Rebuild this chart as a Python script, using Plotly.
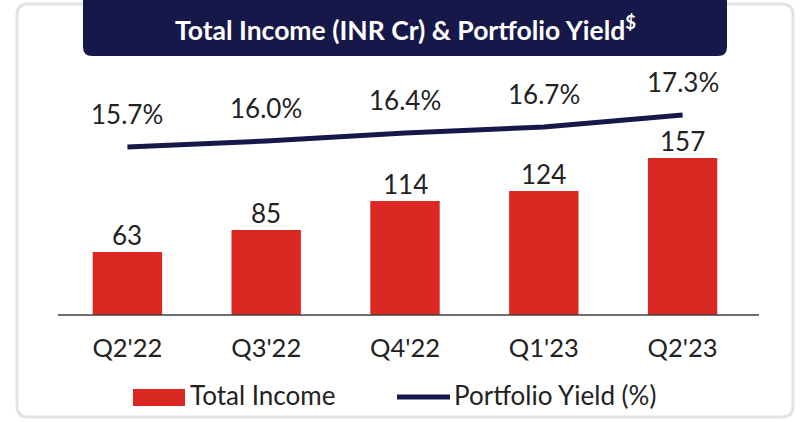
import plotly.graph_objects as go

categories = ["Q2'22", "Q3'22", "Q4'22", "Q1'23", "Q2'23"]
total_income = [63, 85, 114, 124, 157]
portfolio_yield = [15.7, 16.0, 16.4, 16.7, 17.3]
income_labels = ["63", "85", "114", "124", "157"]
yield_labels = ["15.7%", "16.0%", "16.4%", "16.7%", "17.3%"]
bar_name = "Total Income"
line_name = "Portfolio Yield (%)"
title_text = "Total Income (INR Cr) & Portfolio Yield<sup>$</sup>"

RED = "#DC2822"
NAVY = "#17184A"
TXT = "#222222"
FONT = "Lato, 'Open Sans', sans-serif"

W, H = 803, 422
L, R, T, B = 58, 752, 60, 315  # plot area in pixels
ml, mr, mt, mb = L, W - R, T, H - B


def px(x):
    return (x - L) / (R - L)


def py(y):
    return (B - y) / (B - T)


fig = go.Figure()
fig.add_trace(go.Bar(x=categories, y=total_income, name=bar_name,
                     marker=dict(color=RED, line=dict(width=0)), width=0.5,
                     showlegend=False))
fig.add_trace(go.Scatter(x=categories, y=portfolio_yield, name=line_name,
                         mode="lines", line=dict(color=NAVY, width=5),
                         yaxis="y2", showlegend=False))

annotations = []
for c, v, t in zip(categories, total_income, income_labels):
    annotations.append(dict(x=c, y=v, xref="x", yref="y", text=t, showarrow=False,
                            yanchor="middle", yshift=17,
                            font=dict(family=FONT, size=26, color=TXT)))
for c, v, t in zip(categories, portfolio_yield, yield_labels):
    annotations.append(dict(x=c, y=v, xref="x", yref="y2", text=t, showarrow=False,
                            yanchor="middle", yshift=33,
                            font=dict(family=FONT, size=26, color=TXT)))

# title banner text
annotations.append(dict(x=px(405), y=py(29), xref="paper", yref="paper",
                        text="<b>" + title_text + "</b>", showarrow=False,
                        xanchor="center", yanchor="middle",
                        font=dict(family=FONT, size=26.5, color="white")))
# custom legend
annotations.append(dict(x=px(188), y=py(395), xref="paper", yref="paper",
                        text=bar_name, showarrow=False, xanchor="left", yanchor="middle",
                        font=dict(family=FONT, size=26, color=TXT)))
annotations.append(dict(x=px(452), y=py(395), xref="paper", yref="paper",
                        text=line_name, showarrow=False, xanchor="left", yanchor="middle",
                        font=dict(family=FONT, size=26, color=TXT)))


def rrect(x0, y0, x1, y1, r, top_round=True):
    X0, X1 = px(x0), px(x1)
    Y0, Y1 = py(y0), py(y1)  # Y0 top (larger), Y1 bottom
    rx = r / (R - L)
    ry = r / (B - T)
    if top_round:
        return (f"M {X0+rx},{Y0} L {X1-rx},{Y0} Q {X1},{Y0} {X1},{Y0-ry} "
                f"L {X1},{Y1+ry} Q {X1},{Y1} {X1-rx},{Y1} L {X0+rx},{Y1} "
                f"Q {X0},{Y1} {X0},{Y1+ry} L {X0},{Y0-ry} Q {X0},{Y0} {X0+rx},{Y0} Z")
    return (f"M {X0},{Y0} L {X1},{Y0} "
            f"L {X1},{Y1+ry} Q {X1},{Y1} {X1-rx},{Y1} L {X0+rx},{Y1} "
            f"Q {X0},{Y1} {X0},{Y1+ry} Z")


shapes = [
    dict(type="path", xref="paper", yref="paper", path=rrect(17, 4, 793, 417, 11),
         line=dict(color="#E3E3E3", width=3), fillcolor="rgba(0,0,0,0)", layer="below"),
    dict(type="path", xref="paper", yref="paper", path=rrect(83, -6, 727, 56, 9, top_round=False),
         line=dict(width=0), fillcolor=NAVY, layer="above"),
    dict(type="line", xref="paper", yref="paper", x0=px(58), x1=px(759), y0=py(315), y1=py(315),
         line=dict(color="#404040", width=1.5), layer="above"),
    dict(type="rect", xref="paper", yref="paper", x0=px(133), x1=px(185), y0=py(389), y1=py(406),
         line=dict(width=0), fillcolor=RED),
    dict(type="line", xref="paper", yref="paper", x0=px(397), x1=px(450), y0=py(397), y1=py(397),
         line=dict(color=NAVY, width=5)),
]

fig.update_layout(
    width=W, height=H,
    margin=dict(l=ml, r=mr, t=mt, b=mb, pad=0),
    paper_bgcolor="white", plot_bgcolor="white",
    bargap=0.5,
    xaxis=dict(showgrid=False, showline=False, zeroline=False,
               ticks="", tickfont=dict(family=FONT, size=25.5, color=TXT),
               ticklabelstandoff=15),
    yaxis=dict(range=[0, B - T], visible=False, showgrid=False, zeroline=False),
    yaxis2=dict(range=[7.3, 7.3 + (B - T) / 20], overlaying="y", side="right",
                visible=False, showgrid=False, zeroline=False),
    shapes=shapes,
    annotations=annotations,
    showlegend=False,
)

fig.write_html("out.html", config={"displayModeBar": False},
               post_script="document.body.style.margin='0px';document.body.style.overflow='hidden';")
